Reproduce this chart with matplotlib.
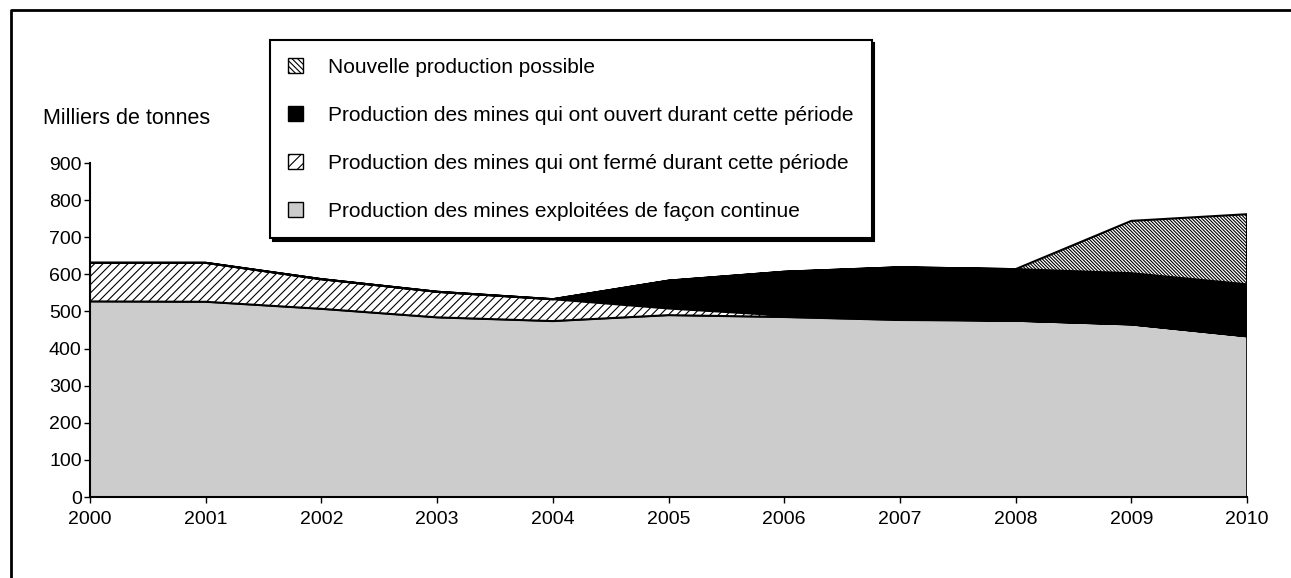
import matplotlib
matplotlib.use("Agg")
import matplotlib.pyplot as plt
from matplotlib.lines import Line2D
from matplotlib.patches import Patch

plt.rcParams["font.family"] = ["Liberation Sans", "DejaVu Sans"]
plt.rcParams["hatch.linewidth"] = 0.8

years = [2000, 2001, 2002, 2003, 2004, 2005, 2006, 2007, 2008, 2009, 2010]
# milliers de tonnes
continue_ = [527, 526, 507, 484, 474, 490, 485, 477, 475, 465, 433]
fermees = [104, 105, 80, 69, 59, 18, 4, 2, 0, 0, 0]
ouvertes = [0, 0, 0, 0, 0, 75, 118, 140, 139, 138, 140]
nouvelle = [0, 0, 0, 0, 0, 0, 0, 0, 0, 141, 189]

labels = [
    "Nouvelle production possible",
    "Production des mines qui ont ouvert durant cette période",
    "Production des mines qui ont fermé durant cette période",
    "Production des mines exploitées de façon continue",
]

W, H = 1291, 578
fig = plt.figure(figsize=(W / 100, H / 100), dpi=100)
ax = fig.add_axes([90 / W, 1 - 497 / H, 1157 / W, 334 / H])

polys = ax.stackplot(years, continue_, fermees, ouvertes, nouvelle,
                     colors=["#cccccc", "white", "black", "white"])
styles = [("", 1.2), ("////", 1.5), ("", 0.5), ("\\" * 10, 1.5)]
for p, (h, lw) in zip(polys, styles):
    p.set_hatch(h)
    p.set_edgecolor("black")
    p.set_linewidth(lw)

ax.set_xlim(2000, 2010)
ax.set_ylim(0, 900)
ax.set_xticks(years)
ax.set_yticks(range(0, 901, 100))
for s in ["top", "right"]:
    ax.spines[s].set_visible(False)
for s in ["left", "bottom"]:
    ax.spines[s].set_linewidth(1.5)
ax.tick_params(labelsize=14, length=4, width=1)
ax.tick_params(axis="x", pad=6)
ax.tick_params(axis="y", pad=2)

fig.text(43 / W, 1 - 118 / H, "Milliers de tonnes", fontsize=15.5, va="center")

handles = [
    Patch(facecolor="white", edgecolor="black", hatch="\\" * 6, lw=1),
    Patch(facecolor="black", edgecolor="black", lw=1),
    Patch(facecolor="white", edgecolor="black", hatch="///", lw=1),
    Patch(facecolor="#cccccc", edgecolor="black", lw=1),
]
leg = fig.legend(handles, labels, loc="upper left",
                 bbox_to_anchor=(270 / W, 1 - 40 / H), fontsize=15,
                 frameon=True, fancybox=False, framealpha=1,
                 edgecolor="black", shadow={"color": "black", "alpha": 1},
                 handlelength=0.75, handleheight=0.75, handletextpad=1.2,
                 labelspacing=1.39, borderpad=0.85, borderaxespad=0)
leg.get_frame().set_linewidth(1.5)

# cadre partiel autour de la figure
fig.add_artist(Line2D([11 / W, 11 / W, 1], [0, 1 - 10 / H, 1 - 10 / H],
                      color="black", lw=2, transform=fig.transFigure))

fig.savefig("out.png", dpi=100)
